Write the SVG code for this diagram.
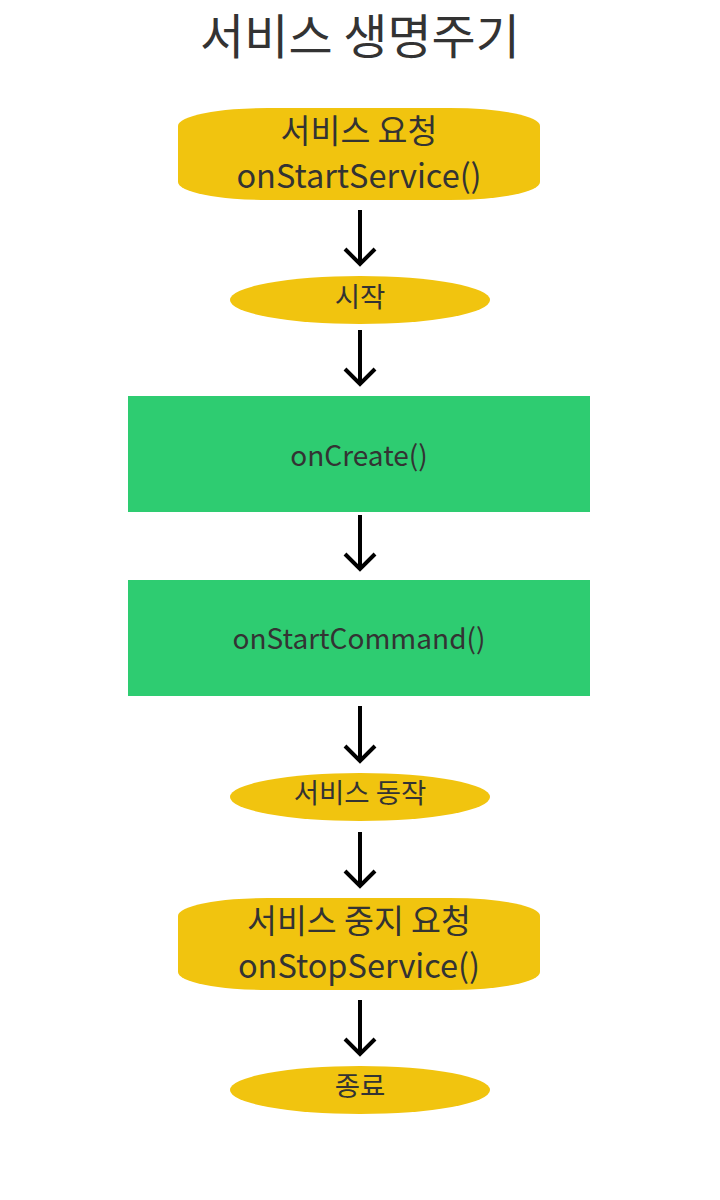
<svg xmlns="http://www.w3.org/2000/svg" width="720" height="1200" viewBox="0 0 720 1200">
<defs>
<style>
text{font-family:"Noto Sans CJK KR","Noto Sans",sans-serif;fill:#333333;text-anchor:middle;dominant-baseline:central}
.y{fill:#F1C40F}
.g{fill:#2ECC71}
.t1{font-size:32.5px}
.t2{font-size:28px}
.t3{font-size:27.5px}
.c{stroke:#000;stroke-width:4;fill:none}
</style>
</defs>
<rect width="720" height="1200" fill="#fff"/>
<text x="360" y="33" style="font-size:48px">서비스 생명주기</text>
<g id="connectors">
<path class="c" d="M360,210V264M345,249L360,264L375,249"/>
<path class="c" d="M360,330V384M345,369L360,384L375,369"/>
<path class="c" d="M360,515V569M345,554L360,569L375,554"/>
<path class="c" d="M360,706V761M345,746L360,761L375,746"/>
<path class="c" d="M360,832V886M345,871L360,886L375,871"/>
<path class="c" d="M360,1000V1054M345,1039L360,1054L375,1039"/>
</g>
<g id="n1"><rect class="y" x="178" y="108" width="362" height="92" rx="90" ry="18"/><text class="t1" x="359" y="128">서비스 요청</text><text class="t1" x="359" y="173">onStartService()</text></g>
<g id="n2"><ellipse class="y" cx="360" cy="300" rx="130" ry="24"/><text class="t3" x="360" y="295">시작</text></g>
<g id="n3"><rect class="g" x="128" y="396" width="462" height="116"/><text class="t2" x="359" y="454">onCreate()</text></g>
<g id="n4"><rect class="g" x="128" y="580" width="462" height="116"/><text class="t2" x="359" y="637">onStartCommand()</text></g>
<g id="n5"><ellipse class="y" cx="360" cy="797" rx="130" ry="24"/><text class="t3" x="360" y="791">서비스 동작</text></g>
<g id="n6"><rect class="y" x="178" y="898" width="362" height="92" rx="90" ry="18"/><text class="t1" x="359" y="918">서비스 중지 요청</text><text class="t1" x="359" y="963">onStopService()</text></g>
<g id="n7"><ellipse class="y" cx="360" cy="1090" rx="130" ry="24"/><text class="t3" x="360" y="1084">종료</text></g>
</svg>
